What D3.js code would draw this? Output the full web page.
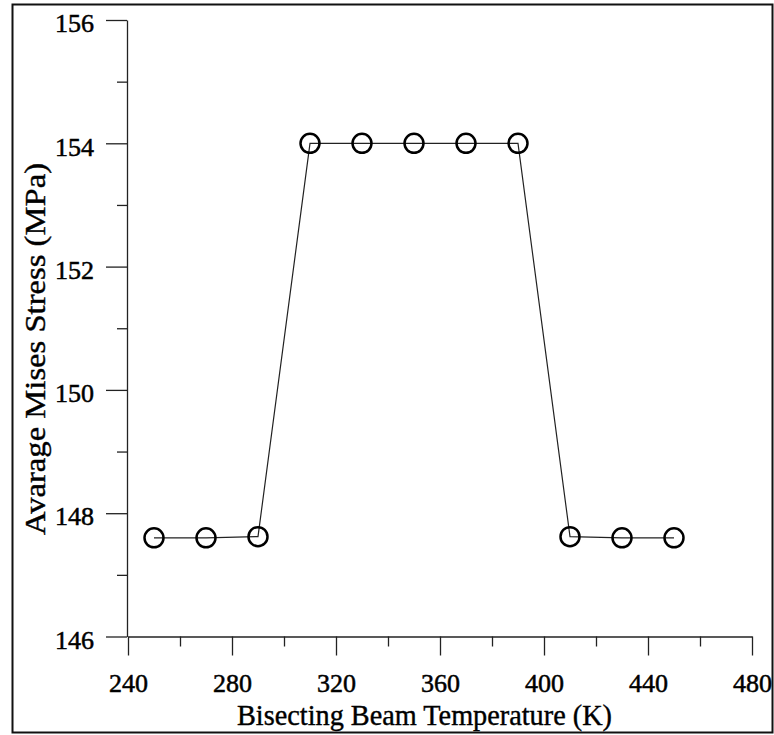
<!DOCTYPE html>
<html>
<head>
<meta charset="utf-8">
<script src="https://cdn.jsdelivr.net/npm/d3@7"></script>
<style>
  body { margin: 0; background: #fff; }
  svg { display: block; }
</style>
</head>
<body>
<div id="chart"></div>
<script>
// data
const temps = [250, 270, 290, 310, 330, 350, 370, 390, 410, 430, 450];
const stress = [147.6, 147.6, 147.62, 154, 154, 154, 154, 154, 147.62, 147.6, 147.6];
const xMajor = [240, 280, 320, 360, 400, 440, 480];
const xMinor = [260, 300, 340, 380, 420, 460];
const yMajor = [146, 148, 150, 152, 154, 156];
const yMinor = [147, 149, 151, 153, 155];
const xTitle = "Bisecting Beam Temperature (K)";
const yTitle = "Avarage Mises Stress (MPa)";

const width = 774, height = 735;
const font = "'Liberation Serif', 'DejaVu Serif', serif";

const svg = d3.select("#chart").append("svg")
  .attr("width", width)
  .attr("height", height);

// outer frame
svg.append("rect")
  .attr("x", 12.5).attr("y", 4.5)
  .attr("width", 760).attr("height", 728)
  .attr("fill", "none")
  .attr("stroke", "#111")
  .attr("stroke-width", 2);

const x = d3.scaleLinear().domain([240, 480]).range([128, 752]);
const y = d3.scaleLinear().domain([146, 156]).range([636.5, 20]);

// x axis: minor then major ticks
svg.append("g")
  .attr("transform", `translate(0,${y(146)})`)
  .call(d3.axisBottom(x).tickValues(xMinor).tickSize(10).tickFormat(""))
  .call(g => g.select(".domain").remove());

const gx = svg.append("g")
  .attr("transform", `translate(0,${y(146)})`)
  .call(d3.axisBottom(x).tickValues(xMajor).tickSize(19).tickSizeOuter(0).tickPadding(18));

// y axis
svg.append("g")
  .attr("transform", `translate(${x(240) - 1},0)`)
  .call(d3.axisLeft(y).tickValues(yMinor).tickSize(10).tickFormat(""))
  .call(g => g.select(".domain").remove());

const gy = svg.append("g")
  .attr("transform", `translate(${x(240) - 1},0)`)
  .call(d3.axisLeft(y).tickValues(yMajor).tickSize(21).tickSizeOuter(0).tickPadding(12));

svg.selectAll(".domain, .tick line")
  .attr("stroke", "#222")
  .attr("stroke-width", 1.3);

gx.selectAll("text")
  .style("font-family", font)
  .style("font-size", "26px")
  .attr("fill", "#000")
  .attr("stroke", "#000")
  .attr("stroke-width", 0.5);

gy.selectAll("text")
  .style("font-family", font)
  .style("font-size", "26px")
  .attr("dy", "0.45em")
  .attr("fill", "#000")
  .attr("stroke", "#000")
  .attr("stroke-width", 0.5);

// axis titles
svg.append("text")
  .attr("x", 424.5)
  .attr("y", 725)
  .attr("text-anchor", "middle")
  .attr("textLength", 375)
  .attr("lengthAdjust", "spacingAndGlyphs")
  .attr("stroke", "#000")
  .attr("stroke-width", 0.4)
  .style("font-family", font)
  .style("font-size", "29px")
  .text(xTitle);

svg.append("text")
  .attr("transform", "translate(45,349) rotate(-90)")
  .attr("text-anchor", "middle")
  .attr("textLength", 372)
  .attr("lengthAdjust", "spacingAndGlyphs")
  .attr("stroke", "#000")
  .attr("stroke-width", 0.4)
  .style("font-family", font)
  .style("font-size", "29px")
  .text(yTitle);

// data line and markers
const pts = temps.map((t, i) => [t, stress[i]]);

svg.append("path")
  .datum(pts)
  .attr("fill", "none")
  .attr("stroke", "#222")
  .attr("stroke-width", 1.2)
  .attr("d", d3.line().x(d => x(d[0])).y(d => y(d[1])));

svg.selectAll("circle")
  .data(pts)
  .enter().append("circle")
  .attr("cx", d => x(d[0]))
  .attr("cy", d => y(d[1]))
  .attr("r", 9.5)
  .attr("fill", "none")
  .attr("stroke", "#000")
  .attr("stroke-width", 2.5);
</script>
</body>
</html>
